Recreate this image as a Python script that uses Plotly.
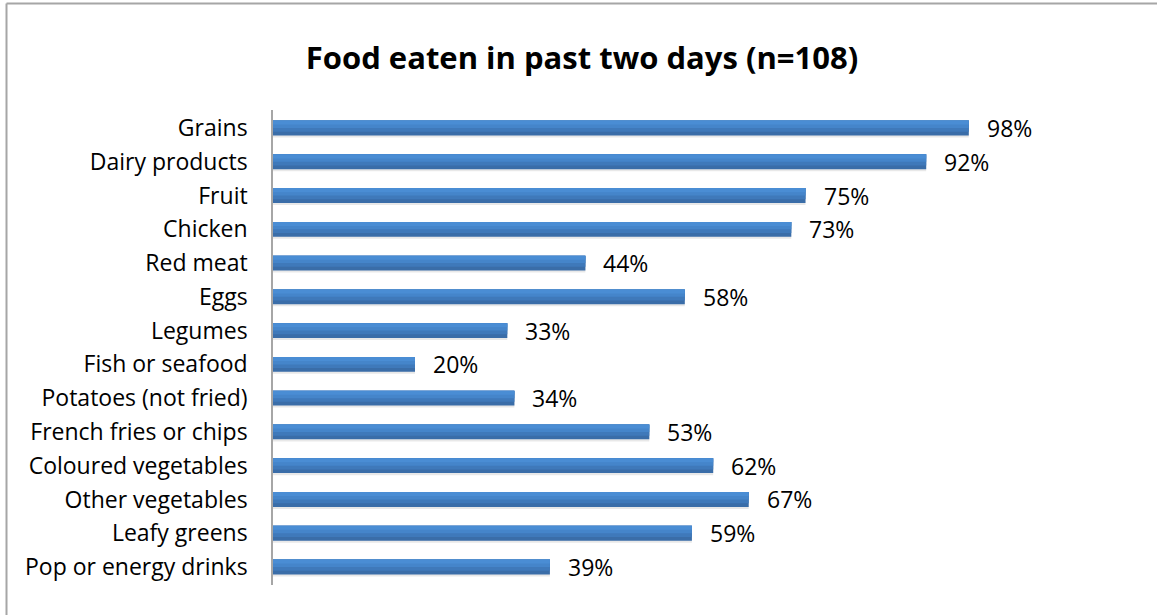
import plotly.graph_objects as go

categories = [
    "Grains", "Dairy products", "Fruit", "Chicken", "Red meat", "Eggs",
    "Legumes", "Fish or seafood", "Potatoes (not fried)",
    "French fries or chips", "Coloured vegetables", "Other vegetables",
    "Leafy greens", "Pop or energy drinks",
]
percent = [98, 92, 75, 73, 44, 58, 33, 20, 34, 53, 62, 67, 59, 39]
value_labels = [f"{v}%" for v in percent]

W, H = 1157, 615
ML, MR, MT, MB = 273, 174, 110, 30
PW, PH = W - ML - MR, H - MT - MB
FONT = "Open Sans, Liberation Sans, sans-serif"

fig = go.Figure()

# soft drop shadow under each bar
fig.add_trace(go.Bar(
    y=categories, x=percent, orientation="h",
    width=0.46, offset=-0.18,
    marker=dict(color="rgba(0,0,0,0.09)", line=dict(width=0)),
    hoverinfo="skip", showlegend=False,
))
# vertical shading of the bar, drawn as stacked bands from dark to light
bands = [
    (0.44, "#3A6DA8"),
    (0.33, "#3F79BA"),
    (0.22, "#4585CA"),
    (0.12, "#4A8DD4"),
]
for w, col in bands:
    fig.add_trace(go.Bar(
        y=categories, x=percent, orientation="h",
        width=w, offset=-0.22,
        marker=dict(color=col, line=dict(width=0)),
        hoverinfo="skip", showlegend=False,
    ))

annotations = [
    dict(x=v, y=c, text=t, xref="x", yref="y", xanchor="left",
         yanchor="middle", xshift=16, showarrow=False,
         font=dict(size=23, family=FONT, color="#000000"))
    for c, v, t in zip(categories, percent, value_labels)
]

bx = (6.5 - ML) / PW
ty = 1 + (MT - 3.5) / PH
shapes = [
    dict(type="line", xref="paper", yref="paper", x0=bx, x1=bx,
         y0=-0.2, y1=ty, line=dict(color="#A6A6A6", width=2)),
    dict(type="line", xref="paper", yref="paper", x0=bx, x1=1.3,
         y0=ty, y1=ty, line=dict(color="#A6A6A6", width=2)),
]

fig.update_layout(
    width=W, height=H,
    margin=dict(l=ML, r=MR, t=MT, b=MB),
    paper_bgcolor="white", plot_bgcolor="white",
    barmode="overlay",
    font=dict(family=FONT, color="#000000"),
    title=dict(
        text="<b>Food eaten in past two days (n=108)</b>",
        x=582 / W, xanchor="center", xref="container",
        y=1 - 58 / H, yanchor="middle",
        font=dict(size=31, family=FONT, color="#000000"),
    ),
    xaxis=dict(range=[0, 100], visible=False, fixedrange=True),
    yaxis=dict(
        autorange="reversed", showgrid=False, zeroline=False,
        showline=True, linecolor="#A6A6A6", linewidth=1.5,
        ticks="", ticklabelstandoff=19,
        tickfont=dict(size=23, family=FONT, color="#000000"),
    ),
    annotations=annotations,
    shapes=shapes,
)

fig.write_html("out.html")
